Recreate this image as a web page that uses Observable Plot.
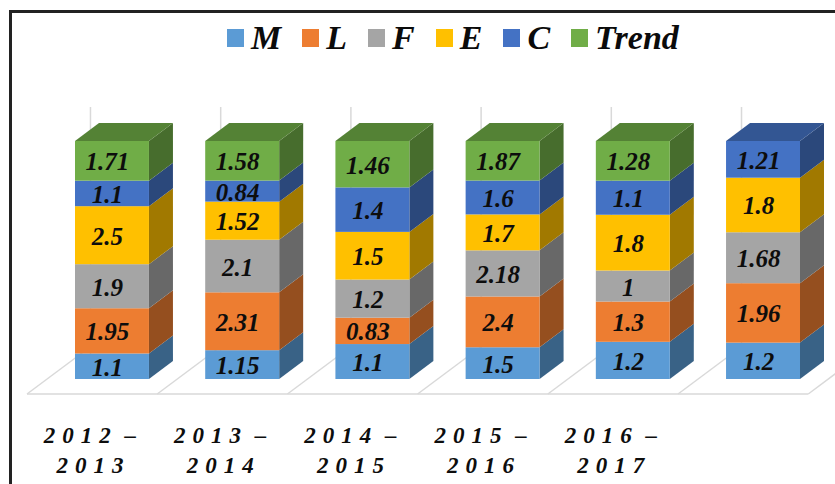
<!DOCTYPE html>
<html>
<head>
<meta charset="utf-8">
<script src="https://cdn.jsdelivr.net/npm/d3@7"></script>
<script src="https://cdn.jsdelivr.net/npm/@observablehq/plot@0.6"></script>
<style>
  html, body { margin: 0; padding: 0; background: #fff; overflow: hidden; }
  #wrap { position: relative; width: 835px; height: 484px; }
  #frame { position: absolute; left: 9px; top: 10px; right: -5px; bottom: -5px;
           border-left: 3px solid #222; border-top: 3px solid #222; }
  #legend { position: absolute; left: 227px; top: 18px; height: 40px; display: flex; align-items: center;
            font: italic bold 34px "Liberation Serif", serif; color: #0b0b0b; z-index: 2; white-space: nowrap; }
  #legend .item { display: flex; align-items: center; margin-right: 21px; }
  #legend .sw { width: 17px; height: 18px; margin-right: 7px; }
  #chart { position: absolute; left: 0; top: 0; }
  svg [aria-label="x-axis tick label"] { letter-spacing: 7px; word-spacing: -6px; }
</style>
</head>
<body>
<div id="wrap">
  <div id="frame"></div>
  <div id="legend"></div>
  <div id="chart"></div>
</div>
<script>
const categories = ["2012 –\n2013", "2013 –\n2014", "2014 –\n2015", "2015 –\n2016", "2016 –\n2017", ""];
const seriesNames = ["M", "L", "F", "E", "C", "Trend"];
const seriesColors = ["#5b9bd5", "#ed7d31", "#a5a5a5", "#ffc000", "#4472c4", "#70ad47"];

const M = [1.1, 1.15, 1.1, 1.5, 1.2, 1.2];
const L = [1.95, 2.31, 0.83, 2.4, 1.3, 1.96];
const F = [1.9, 2.1, 1.2, 2.18, 1, 1.68];
const E = [2.5, 1.52, 1.5, 1.7, 1.8, 1.8];
const C = [1.1, 0.84, 1.4, 1.6, 1.1, 1.21];
const Trend = [1.71, 1.58, 1.46, 1.87, 1.28, null];

const seriesValues = [M, L, F, E, C, Trend];
const rows = seriesNames.flatMap((series, s) =>
  categories.map((category, c) => ({category, series, value: seriesValues[s][c]}))
    .filter((d) => d.value != null));

const DEPTH_X = 24, DEPTH_Y = 18;
const FLOOR_DX = 63, FLOOR_DY = 47;
const serif = "Liberation Serif";

const colorOf = (series) => seriesColors[seriesNames.indexOf(series)];
const shade = (c, k) => { const r = d3.rgb(c); return d3.rgb(r.r * k, r.g * k, r.b * k).formatHex(); };

const stack = (opts) => Plot.stackY({offset: "normalize"}, {x: "category", y: "value", z: "series", ...opts});

// Turn the bar rectangles of a stack into the receding faces of the 3D columns.
function face(kind) {
  return (index, scales, values, dims, ctx, next) => {
    const g = next(index, scales, values, dims, ctx);
    const top = scales.y(1);
    for (const r of Array.from(g.querySelectorAll("rect"))) {
      const x = +r.getAttribute("x"), y = +r.getAttribute("y");
      const w = +r.getAttribute("width"), h = +r.getAttribute("height");
      const p = document.createElementNS("http://www.w3.org/2000/svg", "polygon");
      p.setAttribute("fill", r.getAttribute("fill"));
      if (kind === "side") {
        p.setAttribute("points", [[x + w, y], [x + w + DEPTH_X, y - DEPTH_Y], [x + w + DEPTH_X, y + h - DEPTH_Y], [x + w, y + h]].join(" "));
      } else {
        if (Math.abs(y - top) > 0.5) { r.remove(); continue; }
        p.setAttribute("points", [[x, y], [x + DEPTH_X, y - DEPTH_Y], [x + w + DEPTH_X, y - DEPTH_Y], [x + w, y]].join(" "));
      }
      r.replaceWith(p);
    }
    return g;
  };
}

// Floor plate of the 3D chart, one slot per category, placed from the x and y scales.
function floor(index, scales) {
  const g = d3.create("svg:g");
  const step = scales.x(categories[1]) - scales.x(categories[0]);
  const y0 = scales.y(0) + 15;
  const left = scales.x(categories[0]) - 48;
  const n = categories.length;
  g.append("path")
    .attr("d", `M${left},${y0}H${left + n * step}`)
    .attr("stroke", "#d9d9d9").attr("stroke-width", 1.5).attr("fill", "none");
  for (let i = 0; i <= n; i++) {
    const x = left + i * step;
    g.append("path")
      .attr("d", `M${x},${y0}L${x + FLOOR_DX},${y0 - FLOOR_DY}`)
      .attr("stroke", "#d9d9d9").attr("stroke-width", 1.5).attr("fill", "none");
  }
  return g.node();
}

const chart = Plot.plot({
  width: 835,
  height: 484,
  marginLeft: 75,
  marginRight: 35,
  marginTop: 141,
  marginBottom: 105,
  style: {background: "transparent", overflow: "hidden"},
  x: {domain: categories, paddingInner: 0.432, paddingOuter: 0, round: false, label: null},
  y: {domain: [0, 1], axis: null},
  color: {domain: seriesNames, range: seriesColors},
  marks: [
    floor,
    Plot.ruleX(categories, {x: (d) => d, y1: 0, y2: 1.143, dx: -22, stroke: "#d9d9d9", strokeWidth: 1.5}),
    Plot.barY(rows, stack({fill: {value: (d) => shade(colorOf(d.series), 0.63), scale: null}, render: face("side")})),
    Plot.barY(rows, stack({fill: {value: (d) => shade(colorOf(d.series), 0.75), scale: null}, render: face("top")})),
    Plot.barY(rows, stack({fill: "series"})),
    Plot.text(rows, stack({
      text: (d) => String(d.value),
      dx: -5,
      dy: 1,
      fill: "#0d0d0d",
      fontFamily: serif,
      fontWeight: "bold",
      fontStyle: "italic",
      fontSize: 25
    })),
    Plot.axisX({
      anchor: "bottom",
      tickSize: 0,
      tickPadding: 42,
      label: null,
      dx: -19,
      fill: "#0d0d0d",
      fontFamily: serif,
      fontWeight: "bold",
      fontStyle: "italic",
      fontSize: 23,
      lineHeight: 1.3
    })
  ]
});
document.getElementById("chart").append(chart);

const legend = d3.select("#legend");
seriesNames.forEach((name, i) => {
  const item = legend.append("div").attr("class", "item");
  item.append("div").attr("class", "sw").style("background", seriesColors[i]);
  item.append("span").text(name);
});
</script>
</body>
</html>
